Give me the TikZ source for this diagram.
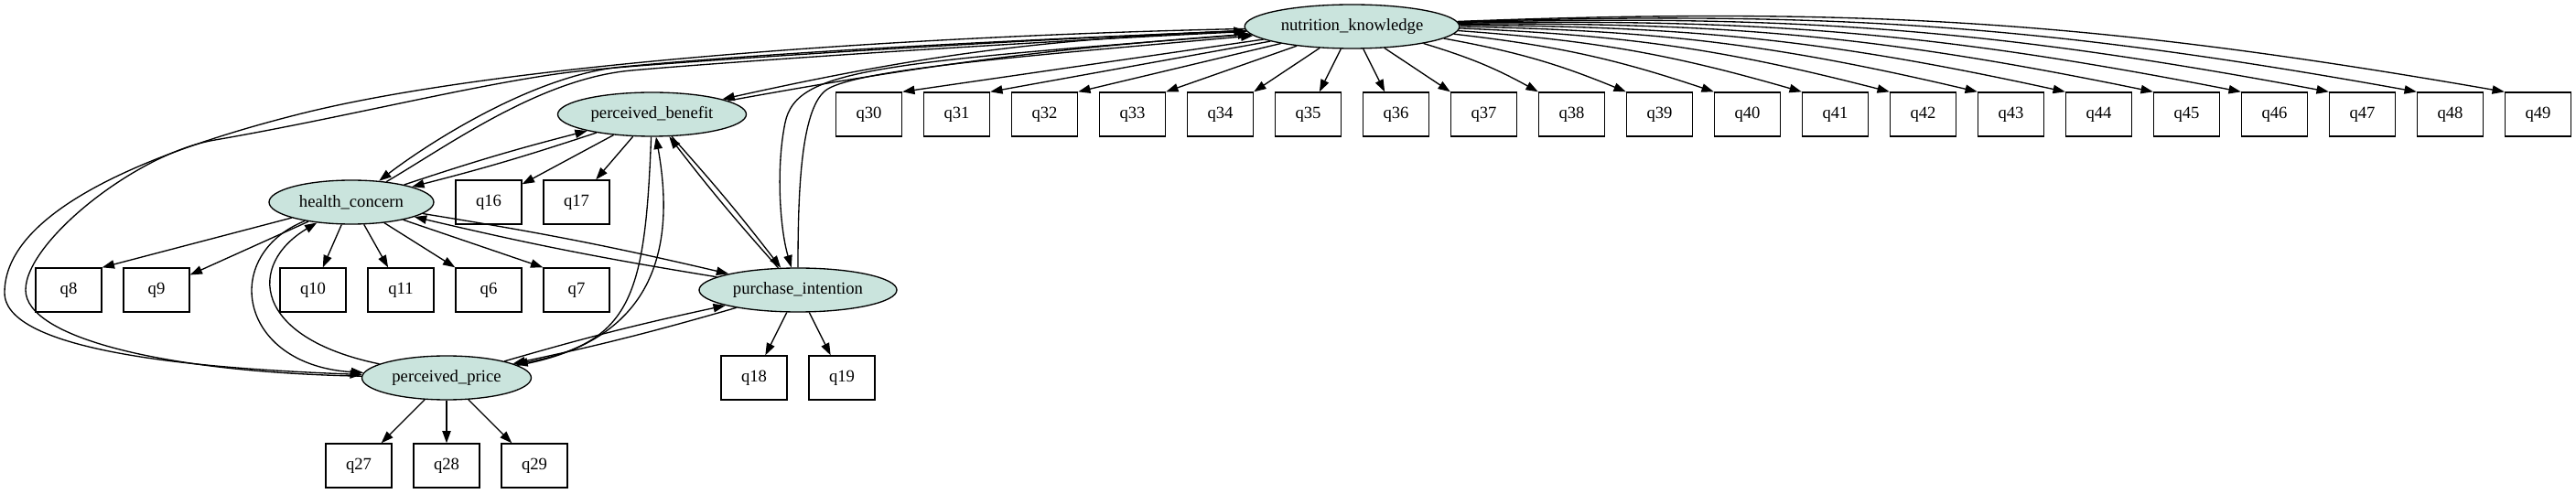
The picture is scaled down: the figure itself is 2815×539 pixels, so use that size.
\documentclass[tikz,border=0pt]{standalone}
\usepackage{fontspec}
\setmainfont{Liberation Serif}
\usetikzlibrary{shapes.geometric,arrows.meta}

\definecolor{latentfill}{RGB}{202,228,221}
\tikzset{
  latent/.style={ellipse, draw, line width=1pt, fill=latentfill, minimum height=36pt, inner sep=0pt, font=\fontsize{14}{17}\selectfont},
  item/.style={rectangle, draw, line width=1pt, minimum width=54pt, minimum height=36pt, inner sep=0pt, font=\fontsize{14}{17}\selectfont},
  edge/.style={line width=1pt, -{Triangle[length=10pt,width=7pt]}}
}

\def \rowA{510}
\def \rowB{414}
\def \rowC{318}
\def \rowD{222}
\def \rowE{126}
\def \rowF{30}

\begin{document}
\begin{tikzpicture}[x=0.75pt, y=0.75pt]
\useasboundingbox (0,0) rectangle (2815,539);
% ---- Latent nodes
\node[latent, minimum width=176pt] (knowledge) at (1477.5, \rowA) {nutrition\_knowledge};
\node[latent, minimum width=154.5pt] (benefit) at (712.5, \rowB) {perceived\_benefit};
\node[latent, minimum width=135pt] (concern) at (384, \rowC) {health\_concern};
\node[latent, minimum width=162pt] (intention) at (872, \rowD) {purchase\_intention};
\node[latent, minimum width=138.75pt] (price) at (488, \rowE) {perceived\_price};

% ---- Items
\foreach \q [count=\k from 0] in {30,...,49}
  \node[item] (q\q) at (949.5 + 96*\k, \rowB) {q\q};
\foreach \q/\x in {16/534, 17/630}
  \node[item] (q\q) at (\x, \rowC) {q\q};
\foreach \q/\x in {8/75, 9/171, 10/342, 11/438, 6/534, 7/630}
  \node[item] (q\q) at (\x, \rowD) {q\q};
\foreach \q/\x in {18/824, 19/920}
  \node[item] (q\q) at (\x, \rowE) {q\q};
\foreach \q/\x in {27/392, 28/488, 29/584}
  \node[item] (q\q) at (\x, \rowF) {q\q};

% ---- Loadings
\foreach \q in {30,...,34}
  \draw[edge] (knowledge) -- (q\q.north east);
\draw[edge] (knowledge) -- (q35);
\draw[edge] (knowledge) -- (q36);
\draw[edge] (knowledge) -- (q37.north west);
\foreach \q in {38,...,49}
  \draw[edge] (knowledge) to[bend left=6] (q\q.north west);
\draw[edge] (benefit) -- (q16);
\draw[edge] (benefit) -- (q17);
\draw[edge] (concern) -- (q8.north east);
\foreach \q in {9,10,11}
  \draw[edge] (concern) -- (q\q);
\draw[edge] (concern) -- (q6.north west);
\draw[edge] (concern) -- (q7.north west);
\draw[edge] (intention) -- (q18);
\draw[edge] (intention) -- (q19);
\foreach \q in {27,28,29}
  \draw[edge] (price) -- (q\q);

% ---- Paths between latents
\draw[edge] (concern) to[bend left=2] (benefit);
\draw[edge] (benefit) to[bend left=2] (concern);
\draw[edge] (concern) to[bend left=2] (intention);
\draw[edge] (intention) to[bend left=2] (concern);
\draw[edge] (benefit) to[bend left=2] (intention);
\draw[edge] (intention) to[bend left=2] (benefit);
\draw[edge] (intention) to[bend left=2] (price);
\draw[edge] (price) to[bend left=2] (intention);
\draw[edge] (benefit) to[bend left=3] (knowledge);
\draw[edge] (knowledge) to[bend right=5] (benefit);
% benefit <-> price
\draw[edge] (benefit) .. controls (705,215) and (690,165) .. (price);
\draw[edge] (price) .. controls (710,165) and (740,260) .. (benefit);
% concern <-> price
\draw[edge] (concern) .. controls (240,260) and (260,140) .. (price);
\draw[edge] (price) .. controls (275,170) and (270,250) .. (concern);
% knowledge <-> concern
\draw[edge] (knowledge) .. controls (1100,495) and (850,482) .. (680,466) .. controls (580,456.6) and (462,378) .. (concern);
\draw[edge] (concern) .. controls (490,380) and (590,453) .. (690,462) .. controls (790,471) and (1100,492) .. (knowledge);
% knowledge <-> price
\draw[edge] (knowledge) .. controls (1000,500) and (550,470) .. (330,415) .. controls (170,375) and (5,310) .. (5,219) .. controls (5,150) and (250,135) .. (price);
\draw[edge] (price) .. controls (180,132) and (28,170) .. (28,222) .. controls (28,275) and (150,372) .. (235,386) .. controls (385,412) and (540,452) .. (640,462) .. controls (740,472) and (1100,495) .. (knowledge);
% knowledge <-> intention
\draw[edge] (knowledge) .. controls (950,470) and (870,462) .. (858,405) .. controls (848,357) and (852,290) .. (intention);
\draw[edge] (intention) .. controls (872,330) and (875,425) .. (905,442) .. controls (945,465) and (1150,480) .. (knowledge);
\end{tikzpicture}
\end{document}
